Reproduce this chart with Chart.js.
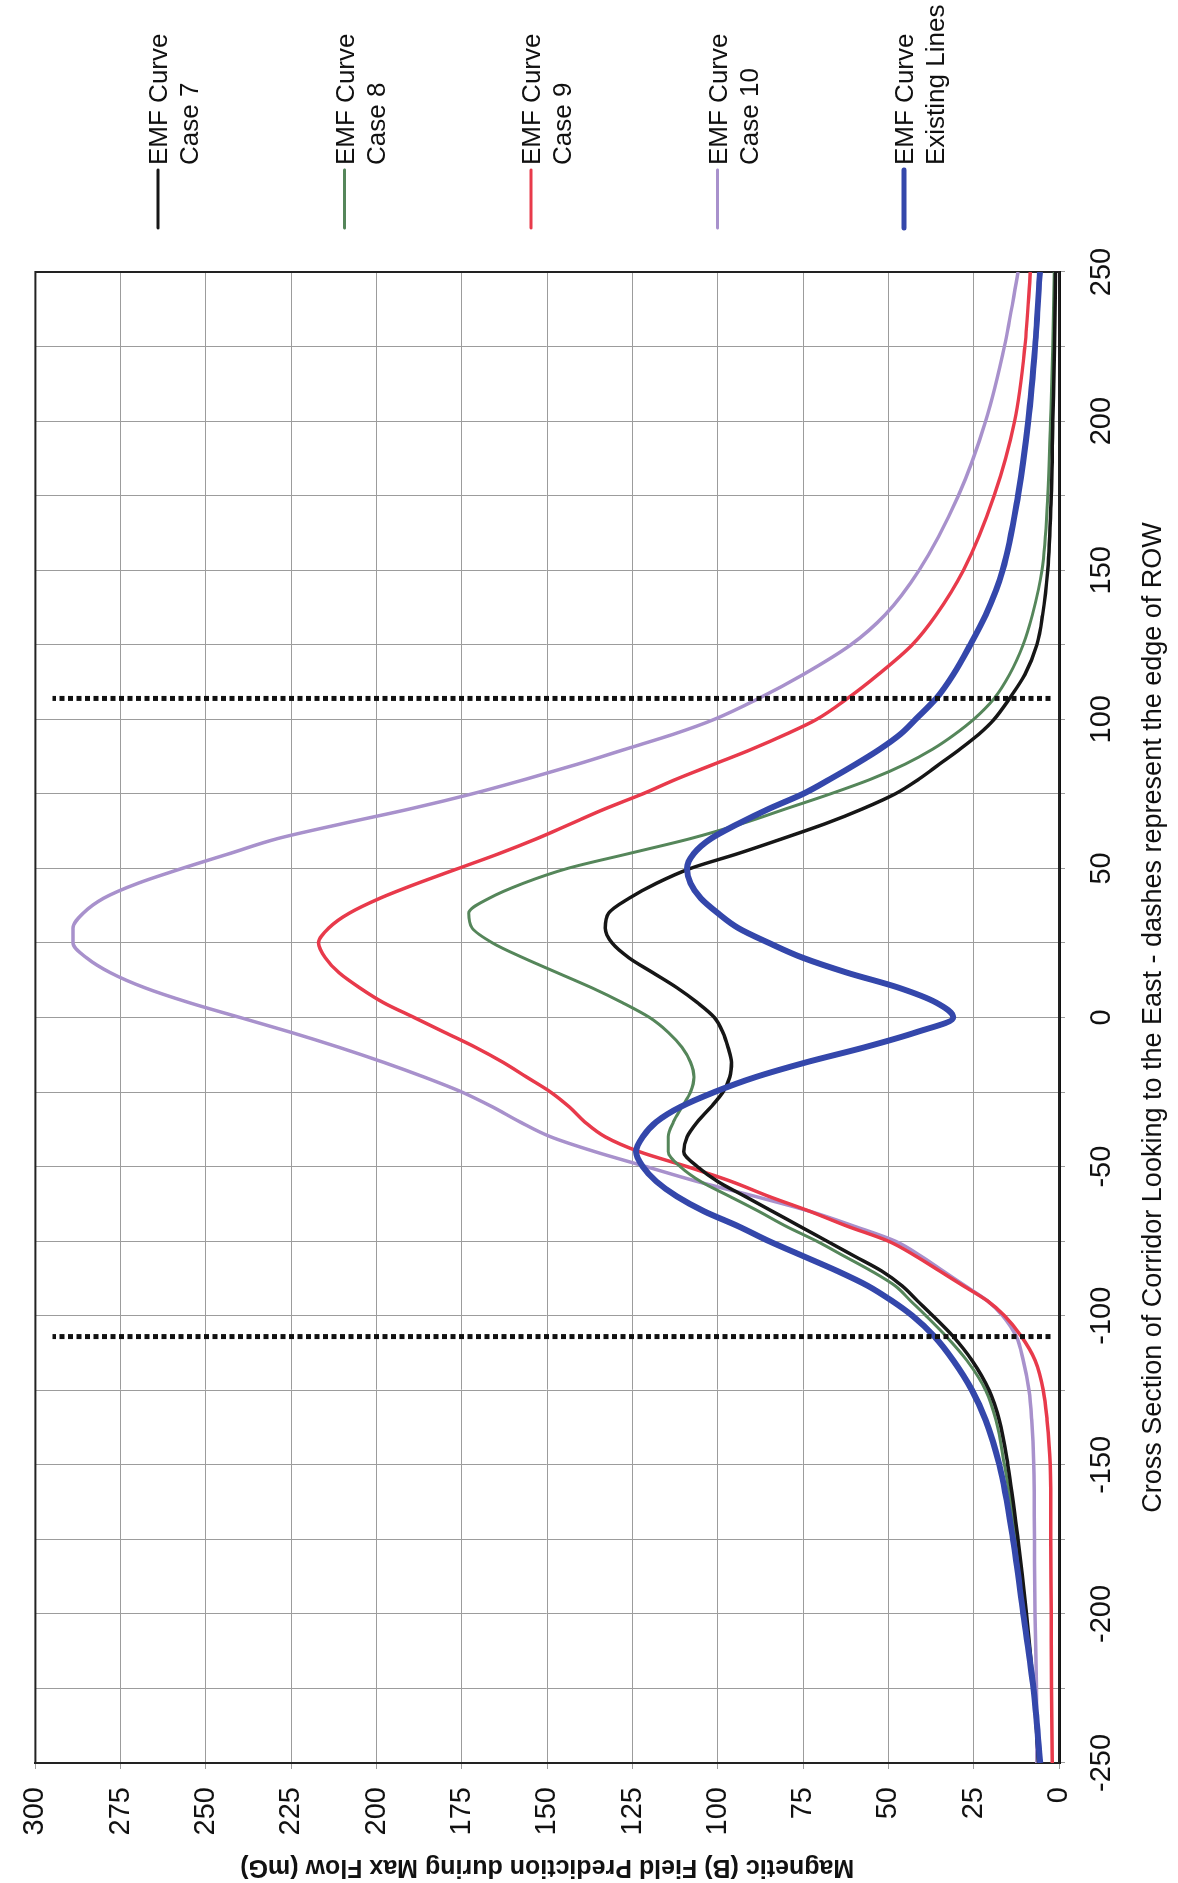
<!DOCTYPE html>
<html>
<head>
<meta charset="utf-8">
<script src="https://cdn.jsdelivr.net/npm/chart.js@4.4.0/dist/chart.umd.min.js"></script>
<style>
  html, body { margin: 0; padding: 0; background: #fff; overflow: hidden; }
  body { width: 1178px; height: 1883px; position: relative; }
  /* the chart is drawn landscape and turned a quarter to the left, like the scanned page */
  #wrap { position: absolute; left: 0; top: 0; width: 1883px; height: 1178px;
          transform-origin: 0 0; transform: translate(0, 1883px) rotate(-90deg); }
</style>
</head>
<body>
<div id="wrap"><canvas id="emfChart" width="1883" height="1178"></canvas></div>
<script>
// distance along the cross section (ft)
const crossSection = [-250, -225, -200, -175, -150, -135, -125, -115, -107, -100,
    -95, -90, -85, -80, -75, -70, -65, -60, -55, -50,
    -45, -40, -35, -30, -25, -20, -15, -10, -5, 0,
    5, 10, 15, 20, 25, 30, 35, 40, 45, 50,
    55, 60, 65, 70, 75, 80, 85, 90, 95, 100,
    107, 115, 125, 135, 150, 175, 200, 225, 250];

// magnetic field (mG)
const case7 = [6, 7.5, 9.5, 12, 15, 17.5, 20.5, 25.5, 31, 37,
    41.5, 46, 52, 60, 68, 76, 84, 92, 100, 106,
    110, 109, 106, 102, 98.5, 96.5, 96, 97, 98.5, 101,
    106, 112, 119, 126, 131, 133, 132, 126, 118, 108,
    94, 81, 68.5, 57.5, 48, 41, 35, 29, 23.5, 19,
    14.5, 10, 6.5, 4.8, 3.3, 2.3, 1.8, 1.3, 1.0];
const case8 = [6, 7.5, 9.8, 12.5, 16, 18.5, 21.5, 27, 33, 39,
    43.5, 48, 55, 63, 71, 80, 88, 96.5, 105, 111,
    114.5, 114.5, 113, 110.5, 108, 107, 108, 110.5, 114.5, 120,
    128, 137, 147, 157, 166, 172, 173, 167, 157, 144,
    126, 108, 93, 80, 67, 55, 45, 37, 30.5, 25,
    19, 14.5, 10.5, 7.8, 5, 3.3, 2.5, 1.8, 1.4];
const case9 = [2, 2.2, 2.3, 2.4, 2.6, 3.5, 4.6, 7, 11, 16,
    21, 28, 35, 42, 50, 62, 73, 85, 96, 109,
    123, 133, 139, 143.5, 149, 156, 163, 171, 180, 189,
    198, 205, 211, 215, 217, 214, 208, 199, 188, 176,
    164, 153, 143, 133, 122, 112, 101, 90, 80, 71,
    62, 53, 43, 36, 28, 19, 13, 10, 8.4];
const case10 = [6.5, 6.6, 7, 7.2, 7.4, 8, 8.8, 10.5, 12.5, 16.5,
    21, 27.5, 34, 40.5, 48, 60, 73, 89, 106, 121,
    136, 149, 158, 166, 175, 186, 198, 211, 225, 240,
    255, 268, 278, 285, 289, 289, 286, 280, 270, 257,
    243, 229, 210, 190, 172, 156, 141, 127, 113, 101,
    88, 75, 61, 51, 41, 29.5, 21.5, 16, 12];
const existingLines = [5.5, 7.5, 10.5, 13.5, 17.5, 21.5, 25.5, 31, 36.5, 43,
    49, 56, 65, 75, 85, 94, 104, 112, 118, 122,
    124, 122, 118, 111, 101, 89, 74, 57, 42, 31,
    36, 47, 62, 75, 85, 94, 100, 105, 108, 109,
    107, 102, 94, 85, 75, 67, 59.5, 52.5, 46.5, 42,
    36, 31, 26, 21.5, 16.5, 12, 9, 7, 5.6];

const seriesNames = ['Case 7', 'Case 8', 'Case 9', 'Case 10', 'Existing Lines'];
const seriesColors = ['#161616', '#55865a', '#e83a4b', '#a891cc', '#3447ab'];
const seriesWidths = [3.5, 3, 3.5, 3.5, 6];
const drawOrder = [2, 3, 4, 5, 1];

// edge of the right of way, and how far the dashes run
const rowEdges = [-107, 107];
const rowSpan = [2.5, 295];

// check whether the condensed face exists, otherwise shrink the plain one
const probe = document.createElement('canvas').getContext('2d');
probe.font = "32px 'Liberation Sans Narrow', monospace";
const wNarrow = probe.measureText('Cross Section of Corridor').width;
probe.font = '32px monospace';
const wMono = probe.measureText('Cross Section of Corridor').width;
const hasNarrow = Math.abs(wNarrow - wMono) > 1;
const narrowFamily = hasNarrow ? "'Liberation Sans Narrow', 'Arial Narrow', sans-serif" : "'Liberation Sans', Arial, sans-serif";
const narrowTick = hasNarrow ? 32 : 29;
const narrowTitle = hasNarrow ? 32 : 27;
const plainFamily = "'Liberation Sans', Arial, sans-serif";

const toPoints = vals => crossSection.map((x, i) => ({ x: x, y: vals[i] }));

const curves = [case7, case8, case9, case10, existingLines];
const curveSets = curves.map((vals, i) => ({
    label: 'EMF Curve ' + seriesNames[i],
    data: toPoints(vals),
    borderColor: seriesColors[i],
    backgroundColor: seriesColors[i],
    borderWidth: seriesWidths[i],
    pointRadius: 0,
    cubicInterpolationMode: 'monotone',
    fill: false,
    order: drawOrder[i]
}));

const rowSets = rowEdges.map(x => ({
    label: 'ROW edge',
    data: rowSpan.map(y => ({ x: x, y: y })),
    borderColor: '#111',
    borderWidth: 5,
    borderDash: [5, 3.5],
    pointRadius: 0,
    fill: false,
    order: 0
}));

// dark frame round the plot
const framePlugin = {
    id: 'frame',
    beforeDatasetsDraw(chart) {
        const { ctx, chartArea: a } = chart;
        ctx.save();
        ctx.strokeStyle = '#222';
        ctx.lineWidth = 2;
        ctx.strokeRect(a.left, a.top, a.right - a.left, a.bottom - a.top);
        ctx.restore();
    }
};

// two-line legend entries down the right side
const legendPlugin = {
    id: 'sideLegend',
    afterDraw(chart) {
        const ctx = chart.ctx;
        const lineStart = chart.chartArea.right + 44;
        ctx.save();
        seriesNames.forEach((name, i) => {
            const v = 158 + i * 186.5;
            ctx.strokeStyle = seriesColors[i];
            ctx.lineWidth = Math.max(3, seriesWidths[i] - 1);
            ctx.lineCap = 'round';
            ctx.beginPath();
            ctx.moveTo(lineStart, v);
            ctx.lineTo(lineStart + 58, v);
            ctx.stroke();
            ctx.fillStyle = '#111';
            ctx.font = '26px ' + plainFamily;
            ctx.textAlign = 'left';
            ctx.textBaseline = 'middle';
            ctx.fillText('EMF Curve', lineStart + 63, v + 2);
            ctx.fillText(name, lineStart + 63, v + 33);
        });
        ctx.restore();
    }
};

new Chart(document.getElementById('emfChart').getContext('2d'), {
    type: 'line',
    data: { datasets: curveSets.concat(rowSets) },
    options: {
        responsive: false,
        animation: false,
        layout: { padding: { top: 26, right: 272, bottom: 0, left: 0 } },
        plugins: { legend: { display: false }, tooltip: { enabled: false } },
        scales: {
            x: {
                type: 'linear',
                min: -250,
                max: 250,
                afterFit: s => { s.height = 119; },
                ticks: {
                    stepSize: 25,
                    autoSkip: false,
                    maxRotation: 0,
                    padding: 20,
                    color: '#111',
                    font: { family: narrowFamily, size: narrowTick },
                    callback: v => (v % 50 === 0 ? v : '')
                },
                grid: { color: '#9c9c9c', lineWidth: 1, tickLength: 6 },
                border: { color: '#111', width: 3 },
                title: {
                    display: true,
                    text: 'Cross Section of Corridor Looking to the East - dashes represent the edge of ROW',
                    color: '#111',
                    font: { family: narrowFamily, size: narrowTitle },
                    padding: { top: 4, bottom: 8 }
                }
            },
            y: {
                min: 0,
                max: 300,
                afterFit: s => { s.width = 120; },
                ticks: {
                    stepSize: 25,
                    padding: 18,
                    color: '#111',
                    font: { family: plainFamily, size: 29 }
                },
                grid: { color: '#9c9c9c', lineWidth: 1, tickLength: 6 },
                border: { color: '#222', width: 2 },
                title: {
                    display: true,
                    text: 'Magnetic (B) Field Prediction during Max Flow (mG)',
                    color: '#111',
                    font: { family: plainFamily, size: 25, weight: 'bold' },
                    padding: { top: 1, bottom: 0 }
                }
            }
        }
    },
    plugins: [framePlugin, legendPlugin]
});
</script>
</body>
</html>
